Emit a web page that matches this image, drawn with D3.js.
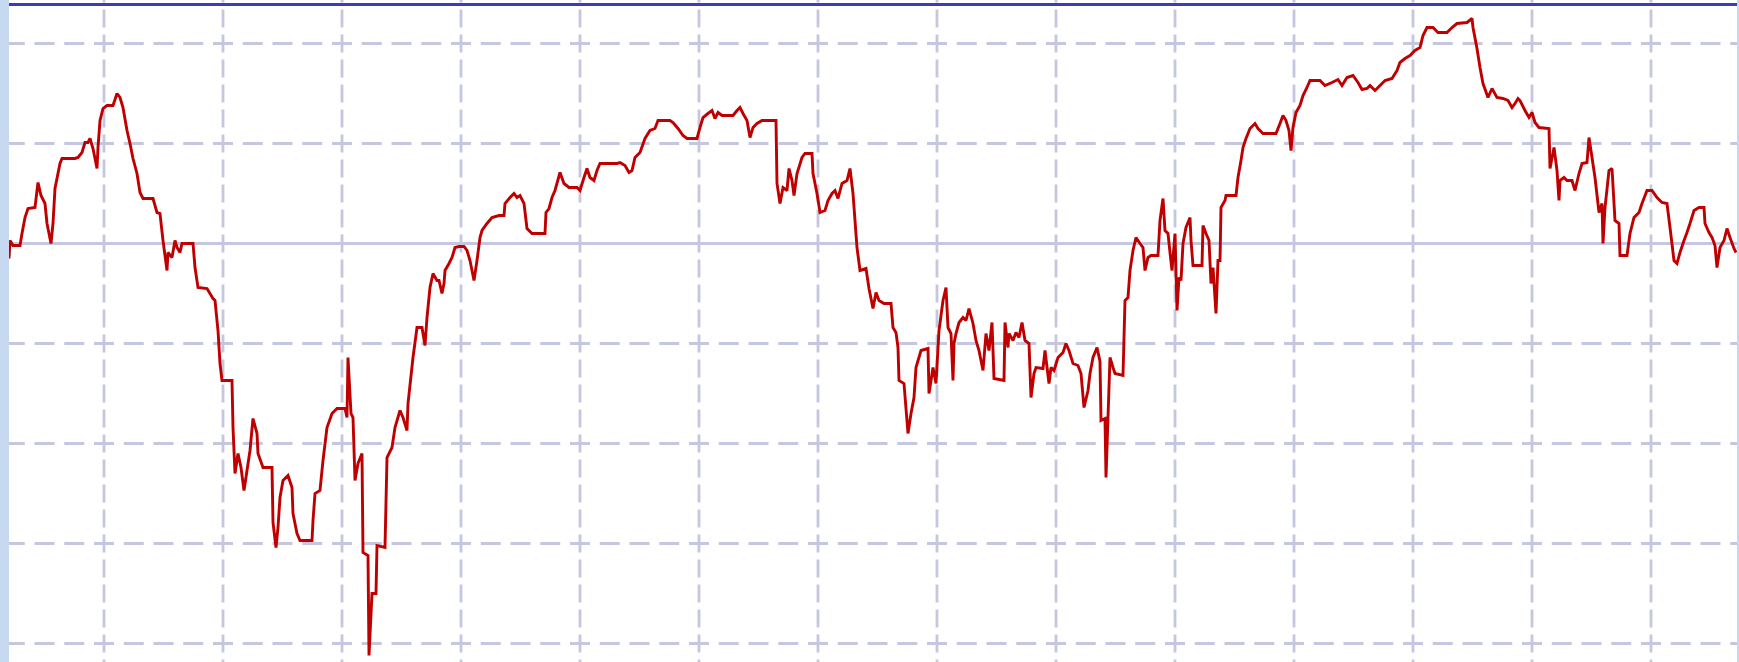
<!DOCTYPE html>
<html>
<head>
<meta charset="utf-8">
<script src="https://cdn.jsdelivr.net/npm/d3@7"></script>
<style>
  html, body { margin: 0; padding: 0; background: #c6d9f0; }
  svg { display: block; }
</style>
</head>
<body>
<div id="chart"></div>
<script>
// day offsets from the first bar, and the index level on that day
const days = [
  0, 1, 4, 11, 13, 16, 19, 26, 29, 32, 36, 38, 42, 44, 46, 51, 53, 66, 69, 73,
  76, 79, 81, 84, 88, 89, 91, 94, 98, 104, 108, 111, 114, 118, 121, 124, 128, 131, 134, 144,
  148, 151, 154, 158, 159, 163, 166, 168, 171, 173, 184, 186, 189, 198, 204, 206, 209, 211, 213, 223,
  224, 226, 229, 232, 235, 238, 241, 244, 248, 249, 254, 263, 264, 267, 269, 271, 274, 279, 283, 284,
  288, 291, 303, 304, 306, 311, 314, 318, 323, 328, 336, 338, 339, 342, 344, 346, 349, 353, 354, 359,
  360, 363, 367, 368, 376, 378, 383, 386, 391, 394, 398, 399, 404, 408, 413, 416, 418, 421, 424, 428,
  430, 433, 435, 436, 440, 443, 446, 450, 455, 458, 461, 465, 468, 471, 473, 478, 483, 490, 495, 496,
  501, 505, 508, 511, 515, 518, 523, 536, 537, 540, 543, 546, 551, 555, 560, 568, 571, 575, 578, 581,
  585, 588, 591, 608, 611, 616, 620, 623, 626, 631, 636, 641, 646, 649, 661, 664, 669, 674, 678, 688,
  691, 694, 699, 703, 706, 709, 713, 724, 728, 731, 734, 738, 741, 744, 748, 753, 767, 768, 771, 774,
  778, 780, 783, 785, 788, 793, 796, 803, 804, 808, 811, 816, 819, 823, 826, 829, 833, 838, 841, 844,
  848, 851, 857, 860, 864, 867, 870, 875, 882, 884, 887, 889, 890, 895, 899, 902, 905, 907, 912, 919,
  920, 924, 927, 930, 934, 937, 939, 942, 944, 945, 947, 950, 954, 957, 960, 964, 967, 970, 974, 977,
  980, 983, 985, 995, 996, 999, 1000, 1004, 1007, 1010, 1013, 1016, 1020, 1022, 1025, 1027, 1034, 1036, 1040, 1042,
  1045, 1049, 1054, 1057, 1060, 1064, 1069, 1072, 1075, 1079, 1081, 1084, 1088, 1091, 1092, 1096, 1097, 1099, 1101, 1104,
  1106, 1114, 1116, 1119, 1121, 1124, 1127, 1131, 1134, 1136, 1139, 1142, 1149, 1151, 1154, 1156, 1159, 1161, 1163, 1166,
  1168, 1170, 1172, 1174, 1177, 1181, 1182, 1184, 1193, 1194, 1197, 1200, 1202, 1204, 1207, 1209, 1211, 1212, 1216, 1217,
  1227, 1229, 1232, 1234, 1237, 1241, 1246, 1249, 1254, 1267, 1271, 1274, 1277, 1280, 1282, 1284, 1287, 1291, 1294, 1298,
  1301, 1311, 1316, 1323, 1329, 1333, 1338, 1344, 1349, 1353, 1358, 1361, 1366, 1371, 1376, 1383, 1388, 1391, 1396, 1401,
  1406, 1411, 1414, 1418, 1424, 1429, 1438, 1443, 1448, 1458, 1463, 1464, 1468, 1471, 1474, 1479, 1483, 1488, 1494, 1499,
  1503, 1506, 1509, 1511, 1516, 1520, 1523, 1526, 1530, 1540, 1541, 1545, 1548, 1550, 1551, 1555, 1558, 1563, 1566, 1570,
  1573, 1578, 1580, 1583, 1586, 1590, 1593, 1594, 1596, 1600, 1603, 1606, 1610, 1611, 1618, 1621, 1625, 1630, 1633, 1638,
  1643, 1648, 1653, 1658, 1661, 1665, 1668, 1671, 1675, 1678, 1681, 1685, 1690, 1695, 1696, 1700, 1703, 1706, 1708, 1711,
  1715, 1718, 1721, 1725, 1727
];

const values = [
  98.5, 100.3, 99.8, 99.8, 101.0, 102.6, 103.5, 103.6, 106.1, 104.8, 104.0, 102.0, 100.0, 102.0, 105.5, 108.0, 108.5, 108.5, 108.6, 109.1,
  110.1, 110.1, 110.5, 109.5, 107.5, 109.6, 112.3, 113.5, 113.8, 113.8, 115.0, 114.6, 113.6, 111.3, 110.0, 108.5, 107.0, 105.1, 104.5, 104.5,
  103.1, 103.0, 100.3, 97.3, 99.1, 98.6, 100.3, 99.6, 99.1, 100.0, 100.0, 97.6, 95.6, 95.5, 94.5, 94.3, 91.3, 88.0, 86.3, 86.3,
  81.6, 77.0, 79.0, 77.6, 75.3, 77.3, 79.3, 82.5, 81.0, 79.0, 77.6, 77.6, 72.1, 69.6, 71.6, 74.6, 76.3, 76.8, 75.6, 73.0,
  71.0, 70.3, 70.3, 72.3, 75.0, 75.3, 78.3, 81.6, 83.0, 83.5, 83.5, 82.6, 88.6, 83.0, 82.6, 76.3, 78.0, 79.0, 69.1, 68.8,
  58.8, 65.0, 65.0, 69.8, 69.6, 78.6, 79.6, 81.6, 83.3, 82.6, 81.3, 84.0, 88.6, 91.6, 91.6, 89.8, 92.6, 95.6, 97.0, 96.3,
  96.3, 95.0, 96.0, 97.3, 98.0, 98.6, 99.6, 99.7, 99.7, 99.3, 98.3, 96.3, 98.3, 100.6, 101.3, 102.0, 102.6, 102.8, 102.8, 104.0,
  104.6, 105.0, 104.6, 104.8, 104.0, 101.5, 101.0, 101.0, 103.1, 103.5, 104.6, 105.3, 107.1, 106.0, 105.6, 105.6, 105.3, 106.6, 107.5, 106.6,
  106.3, 107.3, 108.0, 108.0, 108.1, 107.8, 107.1, 107.3, 108.6, 109.1, 110.5, 111.3, 111.5, 112.3, 112.3, 112.1, 111.5, 110.8, 110.5, 110.5,
  111.6, 112.6, 113.0, 113.3, 112.5, 113.1, 112.8, 112.8, 113.3, 113.6, 113.0, 112.3, 110.6, 111.6, 112.0, 112.3, 112.3, 106.0, 104.0, 105.6,
  105.3, 107.5, 106.3, 104.8, 107.0, 108.6, 109.0, 109.0, 107.0, 105.0, 103.1, 103.3, 104.3, 105.0, 105.3, 104.5, 106.0, 106.3, 107.5, 105.0,
  99.6, 97.3, 97.5, 95.5, 93.5, 95.1, 94.3, 94.0, 94.0, 91.6, 91.1, 89.6, 86.3, 86.0, 81.0, 83.0, 84.6, 87.6, 89.3, 89.5,
  85.0, 87.6, 86.0, 91.3, 94.3, 95.6, 91.6, 91.0, 86.3, 90.0, 91.0, 92.1, 92.6, 92.3, 93.5, 92.0, 90.3, 89.3, 87.3, 91.0,
  89.3, 92.1, 86.5, 86.3, 92.1, 89.6, 91.0, 90.3, 91.1, 90.6, 92.1, 90.3, 90.0, 84.6, 87.0, 87.6, 87.5, 89.3, 86.0, 87.6,
  87.3, 88.6, 89.1, 90.0, 89.3, 88.0, 87.8, 87.0, 83.6, 85.3, 87.0, 88.6, 89.6, 88.2, 82.3, 82.5, 76.6, 82.6, 88.6, 87.6,
  87.0, 86.8, 94.3, 94.6, 97.3, 99.3, 100.6, 100.0, 99.6, 97.3, 98.6, 98.8, 98.8, 102.3, 104.5, 101.3, 101.0, 99.1, 97.3, 101.0,
  93.3, 96.6, 96.3, 100.0, 101.6, 102.6, 100.3, 97.8, 97.8, 101.8, 101.0, 100.3, 96.0, 97.6, 93.0, 98.3, 98.3, 103.6, 104.3, 104.8,
  104.8, 106.6, 108.3, 109.6, 110.5, 111.5, 112.0, 111.5, 111.0, 111.0, 112.0, 112.8, 112.3, 111.3, 109.3, 111.6, 113.1, 113.8, 114.8, 115.6,
  116.3, 116.3, 115.8, 116.1, 116.4, 115.8, 116.6, 116.8, 116.1, 115.4, 115.5, 115.8, 115.3, 115.8, 116.3, 116.5, 117.3, 118.1, 118.5, 118.8,
  119.3, 119.6, 120.8, 121.6, 121.6, 121.1, 121.1, 121.6, 122.0, 122.1, 122.5, 121.6, 119.5, 117.6, 116.0, 114.6, 115.5, 114.6, 114.5, 114.3,
  113.6, 114.0, 114.5, 114.3, 113.3, 112.6, 113.1, 112.1, 111.6, 111.5, 107.5, 109.6, 107.3, 104.3, 106.3, 106.6, 106.3, 106.3, 105.3, 107.0,
  108.0, 108.1, 110.6, 108.6, 106.6, 103.1, 104.0, 100.0, 103.6, 107.3, 107.5, 102.3, 102.0, 98.8, 98.8, 101.0, 102.6, 103.1, 104.0, 105.3,
  105.3, 104.6, 104.1, 104.0, 101.6, 98.3, 98.0, 99.1, 100.3, 101.1, 102.0, 103.3, 103.6, 103.6, 102.0, 101.1, 100.6, 99.8, 97.6, 99.6,
  100.3, 101.5, 100.6, 99.5, 99.1
];

// grid: every 17 weeks across, every 10 points up; 100 is the base level
const gridDays = [95, 214, 333, 452, 571, 690, 809, 928, 1047, 1166, 1285, 1404, 1523, 1642];
const gridValues = [120, 110, 90, 80, 70, 60];
const baseValue = 100;

const width = 1739, height = 662,
  plotLeft = 9, plotRight = 1737,
  gridColor = "#c4c7df",
  lineColor = "#c00000",
  topColor = "#3a3db8";

const x = d3.scaleLinear().domain([0, 1728]).range([plotLeft, plotRight]);
const y = d3.scaleLinear().domain([60, 120]).range([643.5, 43.5]);

const svg = d3.select("#chart")
  .append("svg")
  .attr("width", width)
  .attr("height", height);

svg.append("defs").append("clipPath")
  .attr("id", "plot-clip")
  .append("rect")
  .attr("x", plotLeft)
  .attr("y", 0)
  .attr("width", plotRight - plotLeft)
  .attr("height", height);

svg.append("rect")
  .attr("x", plotLeft)
  .attr("y", 0)
  .attr("width", plotRight - plotLeft)
  .attr("height", height)
  .attr("fill", "#ffffff");

const grid = svg.append("g").attr("clip-path", "url(#plot-clip)");

// start the dash pattern half a dash before a crossing so dashes meet as "+"
const cellW = x(gridDays[1]) - x(gridDays[0]);
const cellH = y(gridValues[1]) - y(gridValues[0]);
const hStart = x(gridDays[0]) - 10 - cellW;
const vStart = y(120) - 9 - cellH;

grid.selectAll("line.h")
  .data(gridValues)
  .enter()
  .append("line")
  .attr("class", "h")
  .attr("x1", hStart)
  .attr("x2", width + 20)
  .attr("y1", d => y(d))
  .attr("y2", d => y(d))
  .attr("stroke", gridColor)
  .attr("stroke-width", 2.8)
  .attr("stroke-dasharray", `20,${cellW / 4 - 20}`);

grid.selectAll("line.v")
  .data(gridDays)
  .enter()
  .append("line")
  .attr("class", "v")
  .attr("x1", d => x(d))
  .attr("x2", d => x(d))
  .attr("y1", vStart)
  .attr("y2", height + 20)
  .attr("stroke", gridColor)
  .attr("stroke-width", 2.8)
  .attr("stroke-dasharray", `18,${cellH / 4 - 18}`);

grid.append("line")
  .attr("x1", plotLeft)
  .attr("x2", plotRight)
  .attr("y1", y(baseValue))
  .attr("y2", y(baseValue))
  .attr("stroke", gridColor)
  .attr("stroke-width", 2.8);

const series = days.map((d, i) => ({ day: d, value: values[i] }));

const line = d3.line()
  .x(d => x(d.day))
  .y(d => y(d.value));

svg.append("path")
  .datum(series)
  .attr("clip-path", "url(#plot-clip)")
  .attr("d", line)
  .attr("fill", "none")
  .attr("stroke", lineColor)
  .attr("stroke-width", 2.9)
  .attr("stroke-linejoin", "miter")
  .attr("stroke-miterlimit", 2);

// dark top edge of the chart frame
svg.append("line")
  .attr("x1", plotLeft)
  .attr("x2", plotRight)
  .attr("y1", 4.5)
  .attr("y2", 4.5)
  .attr("stroke", topColor)
  .attr("stroke-width", 3.2);
</script>
</body>
</html>
